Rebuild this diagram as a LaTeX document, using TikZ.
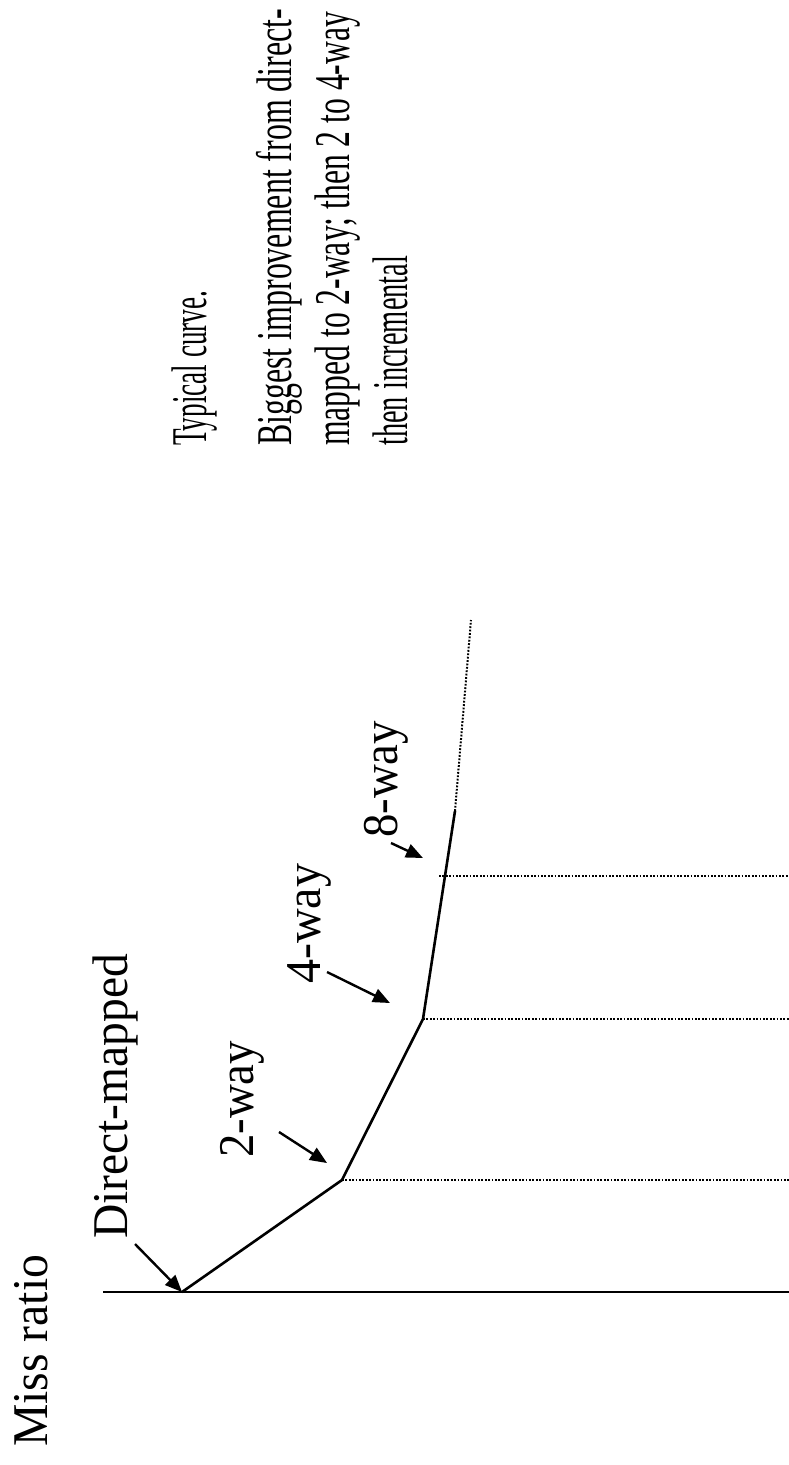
\documentclass[tikz,border=0pt]{standalone}
\usepackage{graphicx}
\usepackage{fontspec}
\setmainfont{Liberation Serif}
\newfontfamily\tnrfont{Liberation Serif}
\usetikzlibrary{arrows.meta}
\newcommand\fitw[2]{\resizebox{#1pt}{\height}{#2}}
\begin{document}
\begin{tikzpicture}[x=1pt,y=-1pt,
  lbl/.style={rotate=90,anchor=base west,inner sep=0pt,font=\tnrfont\fontsize{50}{58}\selectfont},
  axisline/.style={line width=2.6pt},
  curveline/.style={line width=2.6pt,line join=miter},
  guide/.style={line width=2pt,dash pattern=on 1.8pt off 1.6pt},
  pointer/.style={line width=2.4pt,-{Triangle[length=17pt,width=14pt]}}]
\useasboundingbox (0,0) rectangle (789,1465);
% texts
\node[lbl] (miss) at (47,1447) {\fitw{192}{Miss ratio}};
\node[lbl] (dm) at (127,1239) {\fitw{285}{Direct-mapped}};
\node[lbl] (w2) at (253,1158) {\fitw{117}{2-way}};
\node[lbl] (w4) at (320,984) {\fitw{120}{4-way}};
\node[lbl] (w8) at (397,838) {\fitw{117}{8-way}};
\node[lbl] (tc) at (206.5,446) {\fitw{155}{Typical curve.}};
\node[lbl] (b1) at (291.5,446) {\fitw{437}{Biggest improvement from direct-}};
\node[lbl] (b2) at (349.5,446) {\fitw{434}{mapped to 2-way; then 2 to 4-way}};
\node[lbl] (b3) at (407.5,446) {\fitw{190}{then incremental}};
% points
\coordinate (ax0) at (103,1292);
\coordinate (ax1) at (789,1292);
\coordinate (p0) at (182,1292);
\coordinate (p1) at (342,1180);
\coordinate (p2) at (423,1019);
\coordinate (p3) at (455,811);
\coordinate (p4) at (471,620);
\coordinate (g1) at (789,1180);
\coordinate (g2) at (789,1019);
\coordinate (g3s) at (439,875.5);
\coordinate (g3e) at (789,875.5);
\coordinate (a0) at (135,1244);
\coordinate (a1) at (279,1132);
\coordinate (t1) at (327,1163);
\coordinate (a2) at (327,972);
\coordinate (t2) at (390,1003);
\coordinate (a3) at (391,843);
\coordinate (t3) at (423,858);
% drawing
\draw[axisline] (ax0) -- (ax1);
\draw[curveline] (p0) -- (p1) -- (p2) -- (p3);
\draw[guide] (p3) -- (p4);
\draw[guide] (p1) -- (g1);
\draw[guide] (p2) -- (g2);
\draw[guide] (g3s) -- (g3e);
\draw[pointer] (a0) -- (p0);
\draw[pointer] (a1) -- (t1);
\draw[pointer] (a2) -- (t2);
\draw[pointer] (a3) -- (t3);
\end{tikzpicture}
\end{document}
